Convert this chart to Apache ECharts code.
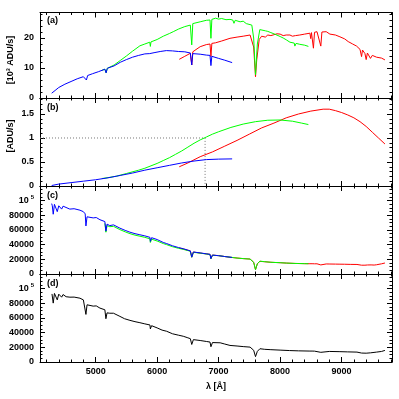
<!DOCTYPE html>
<html><head><meta charset="utf-8">
<script src="https://cdn.jsdelivr.net/npm/echarts@6/dist/echarts.min.js"></script>
<style>html,body{margin:0;padding:0;background:#fff}#c{width:399px;height:399px}</style>
</head><body><div id="c"></div>
<script>
// ---- Panel (a): raw count rates [10^3 ADU/s]
const aBlueW = [4285,4300,4340,4400,4500,4600,4700,4800,4830,4850,4870,4950,5050,5150,5170,5190,5300,5400,5500,5600,5700,5800,5880,5890,5900,5950,6050,6150,6250,6350,6450,6540,6563,6580,6700,6800,6860,6875,6890,7000,7100,7220];
const aBlueF = [1.6,2.2,2.5,3.5,4.6,5.5,6.4,7.1,7.3,6.0,7.5,8.1,8.8,9.6,8.4,9.9,10.7,11.9,12.8,13.6,14.2,14.7,14.8,14.2,14.9,15.1,15.5,15.8,15.7,15.5,15.4,15.0,11.0,14.8,14.6,14.3,14.2,10.8,13.9,13.2,12.6,11.8];
const aGreenW = [5100,5150,5170,5190,5300,5400,5500,5600,5720,5800,5880,5890,5900,6000,6100,6200,6262,6350,6450,6540,6563,6580,6700,6800,6860,6875,6890,6950,7000,7050,7120,7185,7230,7250,7270,7350,7400,7450,7540,7570,7600,7630,7670,7700,7760,7800,7850,7900,8000,8050,8100,8160,8230,8240,8260,8320,8400,8460];
const aGreenF = [9.2,9.6,8.4,9.9,11.0,12.5,14.0,15.6,17.4,18.0,18.6,17.2,18.7,19.5,20.6,21.5,22.1,23.0,23.8,24.3,17.7,24.8,25.4,25.9,26.0,19.9,26.2,26.6,26.3,26.5,26.1,26.2,26.0,24.9,25.9,25.4,25.6,24.8,24.3,20.0,7.7,18.0,22.8,23.0,22.4,22.2,21.8,21.4,20.5,20.0,19.4,18.6,18.3,17.3,18.2,17.9,17.6,17.2];
const aRedW = [6360,6450,6540,6563,6580,6700,6800,6860,6875,6890,6950,7050,7185,7300,7400,7512,7570,7600,7620,7660,7700,7760,7800,7850,7900,7950,8000,8050,8100,8160,8200,8250,8320,8400,8485,8498,8510,8542,8560,8600,8662,8680,8750,8810,8900,8973,9050,9108,9180,9244,9300,9325,9340,9380,9400,9420,9433,9470,9500,9530,9569,9600,9650,9705];
const aRedF = [12.9,13.9,14.9,11.0,15.4,17.1,17.8,18.0,13.8,18.2,18.4,19.0,19.9,20.3,20.6,21.0,17.0,7.1,12.7,19.5,20.6,20.3,21.0,20.8,21.1,21.4,21.3,20.8,21.0,21.0,20.6,20.8,21.0,21.3,21.6,19.8,21.8,16.6,21.9,22.1,17.3,22.0,22.1,21.3,21.0,20.4,19.7,18.8,18.0,17.3,16.2,13.8,16.0,14.8,12.8,15.0,14.6,13.2,14.2,13.8,13.6,13.2,13.3,12.7];

// ---- Panel (b): response [ADU/s]
const bBlueW = [4285,4400,4600,4800,5000,5200,5400,5600,5800,6000,6200,6400,6600,6800,7000,7220];
const bBlueF = [0.01,0.04,0.07,0.10,0.13,0.17,0.22,0.27,0.33,0.38,0.43,0.48,0.52,0.55,0.56,0.565];
const bGreenW = [5100,5230,5340,5500,5700,5800,5900,6000,6100,6200,6300,6400,6500,6600,6700,6800,6900,7000,7200,7400,7600,7800,8000,8200,8350,8460];
const bGreenF = [0.155,0.18,0.205,0.26,0.33,0.37,0.42,0.47,0.53,0.59,0.66,0.73,0.81,0.89,0.96,1.02,1.08,1.13,1.22,1.29,1.34,1.37,1.375,1.35,1.31,1.28];
const bRedW = [6360,6500,6700,6900,7100,7300,7500,7700,7900,8100,8300,8500,8700,8800,8900,9000,9100,9200,9300,9400,9500,9600,9705];
const bRedF = [0.40,0.48,0.61,0.71,0.83,0.95,1.08,1.21,1.31,1.42,1.50,1.56,1.60,1.60,1.57,1.53,1.48,1.42,1.34,1.24,1.12,1.00,0.875];
const refLevel = 1;
const refLambda = 6780;

// ---- Panel (c): calibrated pieces
const cBlueW = [4285,4295,4310,4330,4355,4376,4400,4420,4447,4470,4500,4580,4650,4745,4800,4830,4842,4860,4880,4960,5010,5070,5150,5167,5185,5205,5230,5260,5290,5314,5395,5480,5558,5640,5720,5800,5883,5890,5910,6000,6100,6155,6250,6350,6425,6500,6540,6563,6590,6700,6800,6860,6875,6900,7000,7100,7220];
const cBlueF = [96000,93000,81500,95000,94500,85000,93000,92000,88500,92500,90000,88500,89000,87000,85000,82000,65500,78000,80500,76500,77000,74000,71500,58500,68000,69000,66000,68500,67000,67000,62500,59500,57000,55000,53500,52000,50000,44500,49500,47000,43000,41500,38500,36000,34500,32500,31500,23000,30000,28800,27500,26800,21000,25800,25000,23800,22600];
const cGreenW = [5150,5167,5185,5230,5290,5395,5480,5558,5640,5720,5800,5883,5890,5910,6000,6100,6155,6250,6350,6425,6500,6540,6563,6590,6700,6800,6860,6875,6900,7000,7100,7220,7300,7400,7512,7570,7600,7630,7672,7750,7850,8000,8100,8240,8300,8400,8460];
const cGreenF = [69000,57000,66000,64500,65000,60500,57500,55000,53000,51500,50000,48000,43000,47500,45000,41500,40000,37200,35000,33600,32000,31000,22800,29600,28400,27300,26600,20800,25600,25000,23800,22600,21700,21000,20300,16000,5800,14000,17500,16800,16000,15400,14900,14400,14300,14100,14000];
const cRedW = [6360,6450,6540,6563,6590,6700,6860,6875,6900,7000,7100,7220,7300,7400,7512,7570,7600,7630,7672,7750,7850,8000,8100,8250,8400,8485,8498,8520,8542,8560,8600,8662,8680,8750,8810,8900,8973,9050,9150,9250,9325,9340,9380,9400,9420,9450,9480,9500,9530,9569,9600,9650,9705];
const cRedF = [35500,33500,31500,23000,30000,28500,26800,21000,25800,25000,23800,22500,21800,21000,20400,16000,5800,14000,17300,16700,16000,15400,14900,14400,14100,14000,12800,14000,12300,13900,13900,12400,13700,13700,13600,13500,13400,13300,13100,13000,12000,12900,12000,11000,12300,11800,12400,11600,12200,12600,13200,13900,15000];

// ---- Panel (d): merged calibrated spectrum
const dW = [4290,4300,4310,4330,4355,4376,4400,4420,4447,4470,4485,4520,4582,4650,4745,4800,4830,4842,4860,4880,4960,5010,5070,5150,5167,5185,5205,5230,5260,5290,5314,5395,5470,5558,5640,5720,5800,5883,5890,5910,6000,6080,6155,6250,6350,6425,6500,6540,6563,6590,6700,6800,6860,6875,6900,7025,7100,7185,7300,7400,7512,7570,7600,7630,7672,7750,7850,8000,8150,8300,8485,8498,8520,8542,8560,8662,8680,8800,8973,9100,9250,9325,9350,9400,9420,9470,9500,9569,9650,9705];
const dF = [92800,94000,80300,93500,94200,84700,92500,91900,88400,92000,91500,89000,88400,88500,87000,84700,82000,64900,78000,80300,76200,76500,73500,71200,59000,67000,68100,66500,68100,66500,66800,62200,59000,56800,55000,53600,52000,50500,45100,49500,46500,43500,41900,38500,36500,35100,33000,31800,23900,30500,29300,28000,27200,20800,26500,26200,24500,22600,21800,21000,20300,16000,7300,14500,18100,17300,16800,16200,15600,15200,14900,13800,14900,13000,14800,13200,14600,14400,14100,13800,13500,12200,13200,12000,13000,12500,13200,13500,14400,15800];

// ---- Axes ticks / labels
const xMajor = [5000,6000,7000,8000,9000];
const xMin = 4095, xMax = 9820;
const aTicks = [0,10,20];
const bTicks = [0,0.5,1,1.5];
const cdTicks = [0,20000,40000,60000,80000,100000];

function range(a, b, s){ const r=[]; for(let v=a; v<=b+1e-9; v+=s) r.push(+v.toFixed(6)); return r; }
const xMinor = range(4200, 9800, 200);

const panels = [
  {top:12.5, height:85.5, min:0, max:28.5, major:aTicks, minor:range(0,28,2)},
  {top:98, height:88, min:0, max:1.833, major:bTicks, minor:range(0,1.8,0.1)},
  {top:186, height:88, min:0, max:120000, major:cdTicks, minor:range(0,115000,5000)},
  {top:274, height:88, min:0, max:120000, major:cdTicks, minor:range(0,115000,5000)}
];

const FONT = 'Liberation Sans';
const lineSt = {color:'#000', width:1};
const grids=[], xAxes=[], yAxes=[];
const xIdx=[], yIdx=[];
panels.forEach((p,g)=>{
  grids.push({left:40, right:7, top:p.top, height:p.height, containLabel:false});
  const baseX = {type:'value', gridIndex:g, min:xMin, max:xMax, splitLine:{show:false}, axisPointer:{show:false}};
  xIdx.push(xAxes.length);
  xAxes.push(Object.assign({}, baseX, {position:'bottom',
    axisLine:{show:true, onZero:false, lineStyle:lineSt},
    axisTick:{show:true, inside:true, length:5, customValues:xMajor, lineStyle:lineSt},
    axisLabel:{show:g===3, customValues:xMajor, margin:5, color:'#000', fontSize:9, fontWeight:'bold', fontFamily:FONT,
      formatter:(v)=>String(v)}}));
  xAxes.push(Object.assign({}, baseX, {position:'bottom',
    axisLine:{show:false, onZero:false},
    axisTick:{show:true, inside:true, length:2.5, customValues:xMinor, lineStyle:lineSt},
    axisLabel:{show:false}}));
  xAxes.push(Object.assign({}, baseX, {position:'top',
    axisLine:{show:true, onZero:false, lineStyle:lineSt},
    axisTick:{show:true, inside:true, length:5, customValues:xMajor, lineStyle:lineSt},
    axisLabel:{show:false}}));
  xAxes.push(Object.assign({}, baseX, {position:'top',
    axisLine:{show:false, onZero:false},
    axisTick:{show:true, inside:true, length:2.5, customValues:xMinor, lineStyle:lineSt},
    axisLabel:{show:false}}));
  const baseY = {type:'value', gridIndex:g, min:p.min, max:p.max, splitLine:{show:false}, axisPointer:{show:false}};
  yIdx.push(yAxes.length);
  yAxes.push(Object.assign({}, baseY, {position:'left',
    axisLine:{show:true, onZero:false, lineStyle:lineSt},
    axisTick:{show:true, inside:true, length:5, customValues:p.major, lineStyle:lineSt},
    axisLabel:{show:true, customValues:p.major, margin:6, color:'#000', fontSize:9, fontWeight:'bold', fontFamily:FONT,
      formatter:(v)=> v===100000 ? '{n|10}{s|5}' : String(v),
      rich:{n:{fontSize:9, fontWeight:'bold', fontFamily:FONT, color:'#000'}, s:{fontSize:6, fontWeight:'bold', fontFamily:FONT, color:'#000', padding:[0,0,6,2]}}}}));
  yAxes.push(Object.assign({}, baseY, {position:'left',
    axisLine:{show:false, onZero:false},
    axisTick:{show:true, inside:true, length:2.5, customValues:p.minor, lineStyle:lineSt},
    axisLabel:{show:false}}));
  yAxes.push(Object.assign({}, baseY, {position:'right',
    axisLine:{show:true, onZero:false, lineStyle:lineSt},
    axisTick:{show:true, inside:true, length:5, customValues:p.major, lineStyle:lineSt},
    axisLabel:{show:false}}));
  yAxes.push(Object.assign({}, baseY, {position:'right',
    axisLine:{show:false, onZero:false},
    axisTick:{show:true, inside:true, length:2.5, customValues:p.minor, lineStyle:lineSt},
    axisLabel:{show:false}}));
});

function zip(w,f){ return w.map((x,i)=>[x,f[i]]); }
function ser(g, w, f, color, z, extra){
  return Object.assign({type:'line', xAxisIndex:xIdx[g], yAxisIndex:yIdx[g], data:zip(w,f),
    showSymbol:false, symbol:'none', silent:true, z:z, animation:false,
    lineStyle:{color:color, width:1}, emphasis:{disabled:true}}, extra||{});
}
const RED='#ff0000', GREEN='#00ff00', BLUE='#0000ff';
const series = [
  ser(0,aRedW,aRedF,RED,2), ser(0,aGreenW,aGreenF,GREEN,3), ser(0,aBlueW,aBlueF,BLUE,4),
  ser(1,bRedW,bRedF,RED,2), ser(1,bGreenW,bGreenF,GREEN,3), ser(1,bBlueW,bBlueF,BLUE,4),
  ser(1,[xMin,refLambda,refLambda],[refLevel,refLevel,0],'#666',1,{lineStyle:{color:'#777', width:1, type:[1,2]}}),
  ser(2,cRedW,cRedF,RED,2), ser(2,cGreenW,cGreenF,GREEN,3), ser(2,cBlueW,cBlueF,BLUE,4),
  ser(3,dW,dF,'#000',2)
];

const txtFont = 'bold 9px "Liberation Sans"';
const graphic = [
  {type:'text', x:47, y:16, style:{text:'(a)', font:txtFont, fill:'#000'}},
  {type:'text', x:47, y:103, style:{text:'(b)', font:txtFont, fill:'#000'}},
  {type:'text', x:47, y:191, style:{text:'(c)', font:txtFont, fill:'#000'}},
  {type:'text', x:47, y:279, style:{text:'(d)', font:txtFont, fill:'#000'}},
  {type:'text', x:11, y:60, rotation:Math.PI/2, style:{text:'[10³ ADU/s]', font:txtFont, fill:'#000', align:'center', verticalAlign:'middle'}},
  {type:'text', x:11, y:136, rotation:Math.PI/2, style:{text:'[ADU/s]', font:txtFont, fill:'#000', align:'center', verticalAlign:'middle'}},
  {type:'text', x:216, y:387, style:{text:'λ [Å]', font:txtFont, fill:'#000', align:'center', verticalAlign:'middle'}}
];

const chart = echarts.init(document.getElementById('c'), null, {renderer:'canvas', width:399, height:399});
chart.setOption({animation:false, backgroundColor:'#fff', grid:grids, xAxis:xAxes, yAxis:yAxes, series:series, graphic:graphic, tooltip:{show:false}});
</script>
</body></html>
